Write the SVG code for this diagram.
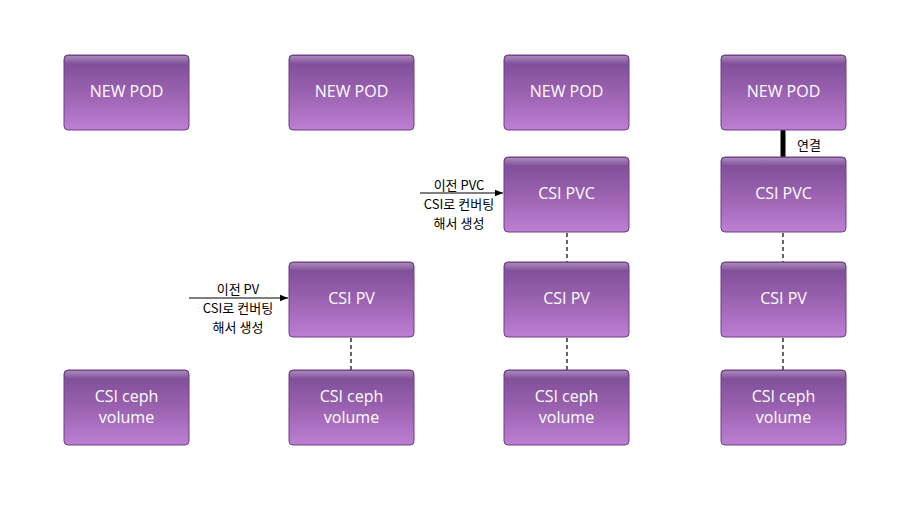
<svg xmlns="http://www.w3.org/2000/svg" width="919" height="518" viewBox="0 0 919 518">
<defs>
<linearGradient id="g" x1="0" y1="0" x2="0" y2="1">
<stop offset="0" stop-color="#7a4a94"/>
<stop offset="0.5" stop-color="#9a62b0"/>
<stop offset="1" stop-color="#bd7fd3"/>
</linearGradient>
<linearGradient id="hl" x1="0" y1="0" x2="0" y2="1">
<stop offset="0" stop-color="#ffffff" stop-opacity="0.35"/>
<stop offset="1" stop-color="#ffffff" stop-opacity="0"/>
</linearGradient>
<marker id="ah" viewBox="0 0 10 10" refX="10" refY="5" markerWidth="8" markerHeight="8" markerUnits="userSpaceOnUse" orient="auto">
<path d="M0,1 L10,5 L0,9 z" fill="#000"/>
</marker>
</defs>
<style>
.box{fill:url(#g);stroke:#6d3f86;stroke-width:1}
.hl{fill:url(#hl)}
.t{font-family:"Open Sans","Noto Sans CJK KR",sans-serif;font-size:16px;fill:#fff;text-anchor:middle}
.lb{font-family:"Noto Sans CJK KR","Open Sans",sans-serif;font-size:13px;fill:#000;text-anchor:middle}
.dash{stroke:#000;stroke-width:1.2;stroke-dasharray:4,3;fill:none}
</style>
<rect width="919" height="518" fill="#fff"/>
<g id="connectors">
<line class="dash" x1="351" y1="338" x2="351" y2="370"/>
<line class="dash" x1="567" y1="233" x2="567" y2="262"/>
<line class="dash" x1="567" y1="338" x2="567" y2="370"/>
<line class="dash" x1="783" y1="233" x2="783" y2="262"/>
<line class="dash" x1="783" y1="338" x2="783" y2="370"/>
<line x1="783" y1="131" x2="783" y2="156" stroke="#000" stroke-width="5" stroke-linecap="round"/>
<line x1="189" y1="298" x2="288" y2="298" stroke="#000" stroke-width="1.2" marker-end="url(#ah)"/>
<line x1="420" y1="193" x2="503" y2="193" stroke="#000" stroke-width="1.2" marker-end="url(#ah)"/>
</g>
<g id="labels">
<text class="lb" x="238" y="294">이전 PV</text>
<text class="lb" x="238" y="313">CSI로 컨버팅</text>
<text class="lb" x="238" y="332">해서 생성</text>
<text class="lb" x="459" y="190">이전 PVC</text>
<text class="lb" x="459" y="209">CSI로 컨버팅</text>
<text class="lb" x="459" y="228">해서 생성</text>
<text class="lb" x="809" y="150">연결</text>
</g>
<g id="pod1"><rect class="box" x="64" y="55" width="125" height="75" rx="4"/><rect class="hl" x="65" y="56" width="123" height="8" rx="3"/><text class="t" x="126.5" y="97">NEW POD</text></g>
<g id="pod2"><rect class="box" x="289" y="55" width="125" height="75" rx="4"/><rect class="hl" x="290" y="56" width="123" height="8" rx="3"/><text class="t" x="351.5" y="97">NEW POD</text></g>
<g id="pod3"><rect class="box" x="504" y="55" width="125" height="75" rx="4"/><rect class="hl" x="505" y="56" width="123" height="8" rx="3"/><text class="t" x="566.5" y="97">NEW POD</text></g>
<g id="pod4"><rect class="box" x="721" y="55" width="125" height="75" rx="4"/><rect class="hl" x="722" y="56" width="123" height="8" rx="3"/><text class="t" x="783.5" y="97">NEW POD</text></g>
<g id="pvc3"><rect class="box" x="504" y="157" width="125" height="75" rx="4"/><rect class="hl" x="505" y="158" width="123" height="8" rx="3"/><text class="t" x="566.5" y="199">CSI PVC</text></g>
<g id="pvc4"><rect class="box" x="721" y="157" width="125" height="75" rx="4"/><rect class="hl" x="722" y="158" width="123" height="8" rx="3"/><text class="t" x="783.5" y="199">CSI PVC</text></g>
<g id="pv2"><rect class="box" x="289" y="262" width="125" height="75" rx="4"/><rect class="hl" x="290" y="263" width="123" height="8" rx="3"/><text class="t" x="351.5" y="304">CSI PV</text></g>
<g id="pv3"><rect class="box" x="504" y="262" width="125" height="75" rx="4"/><rect class="hl" x="505" y="263" width="123" height="8" rx="3"/><text class="t" x="566.5" y="304">CSI PV</text></g>
<g id="pv4"><rect class="box" x="721" y="262" width="125" height="75" rx="4"/><rect class="hl" x="722" y="263" width="123" height="8" rx="3"/><text class="t" x="783.5" y="304">CSI PV</text></g>
<g id="vol1"><rect class="box" x="64" y="370" width="125" height="75" rx="4"/><rect class="hl" x="65" y="371" width="123" height="8" rx="3"/><text class="t" x="126.5" y="402">CSI ceph</text><text class="t" x="126.5" y="423">volume</text></g>
<g id="vol2"><rect class="box" x="289" y="370" width="125" height="75" rx="4"/><rect class="hl" x="290" y="371" width="123" height="8" rx="3"/><text class="t" x="351.5" y="402">CSI ceph</text><text class="t" x="351.5" y="423">volume</text></g>
<g id="vol3"><rect class="box" x="504" y="370" width="125" height="75" rx="4"/><rect class="hl" x="505" y="371" width="123" height="8" rx="3"/><text class="t" x="566.5" y="402">CSI ceph</text><text class="t" x="566.5" y="423">volume</text></g>
<g id="vol4"><rect class="box" x="721" y="370" width="125" height="75" rx="4"/><rect class="hl" x="722" y="371" width="123" height="8" rx="3"/><text class="t" x="783.5" y="402">CSI ceph</text><text class="t" x="783.5" y="423">volume</text></g>
</svg>
